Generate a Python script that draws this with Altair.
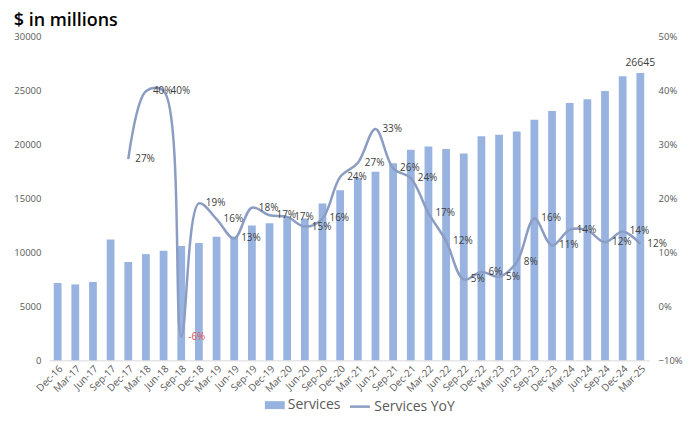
import altair as alt
import pandas as pd

quarters = ["Dec-16", "Mar-17", "Jun-17", "Sep-17", "Dec-17", "Mar-18", "Jun-18", "Sep-18",
            "Dec-18", "Mar-19", "Jun-19", "Sep-19", "Dec-19", "Mar-20", "Jun-20", "Sep-20",
            "Dec-20", "Mar-21", "Jun-21", "Sep-21", "Dec-21", "Mar-22", "Jun-22", "Sep-22",
            "Dec-22", "Mar-23", "Jun-23", "Sep-23", "Dec-23", "Mar-24", "Jun-24", "Sep-24",
            "Dec-24", "Mar-25"]

services = [7172, 7041, 7266, 11200, 9129, 9850, 10170, 10591,
            10875, 11450, 11455, 12511, 12715, 13348, 13156, 14549,
            15761, 16901, 17486, 18277, 19516, 19821, 19604, 19188,
            20766, 20907, 21213, 22314, 23117, 23867, 24213, 24972,
            26340, 26645]

services_yoy = [None, None, None, None, 0.273, 0.399, 0.400, -0.056,
                0.191, 0.162, 0.126, 0.183, 0.169, 0.166, 0.148, 0.163,
                0.240, 0.266, 0.329, 0.256, 0.238, 0.173, 0.121, 0.050,
                0.064, 0.055, 0.082, 0.163, 0.113, 0.142, 0.141, 0.119,
                0.139, 0.116]

yoy_labels = ["", "", "", "", "27%", "40%", "40%", "-6%",
              "19%", "16%", "13%", "18%", "17%", "17%", "15%", "16%",
              "24%", "27%", "33%", "26%", "24%", "17%", "12%", "5%",
              "6%", "5%", "8%", "16%", "11%", "14%", "", "12%",
              "14%", "12%"]

bar_labels = [""] * 33 + ["26645"]

left_ticks = [0, 5000, 10000, 15000, 20000, 25000, 30000]
right_ticks = [-0.1, 0.0, 0.1, 0.2, 0.3, 0.4, 0.5]

BAR = "#98B3DF"
LINE = "#8C9DC4"
FONT = "Open Sans"
GREY = "#595959"

df = pd.DataFrame({
    "quarter": quarters,
    "services": services,
    "yoy": services_yoy,
    "yoy_label": yoy_labels,
    "bar_label": bar_labels,
    "bar_series": ["Services"] * len(quarters),
    "line_series": ["Services YoY"] * len(quarters),
})

x_enc = alt.X("quarter:N", sort=quarters, title=None,
              scale=alt.Scale(paddingInner=0.56, paddingOuter=0.28),
              axis=alt.Axis(labelAngle=-45, ticks=False, domainColor="#D9D9D9",
                            labelColor=GREY, labelFontSize=10, labelFont=FONT,
                            labelPadding=3, grid=False))

y_left = alt.Y("services:Q", title=None,
               scale=alt.Scale(domain=[0, 30000], nice=False),
               axis=alt.Axis(values=left_ticks, format="d", ticks=False, domain=False,
                             grid=False, labelColor=GREY, labelFontSize=9.5,
                             labelFont=FONT, labelPadding=8))

y_right = alt.Y("yoy:Q", title=None,
                scale=alt.Scale(domain=[-0.1, 0.5], nice=False),
                axis=alt.Axis(orient="right", values=right_ticks, format=".0%",
                              ticks=False, domain=False, grid=False, labelColor=GREY,
                              labelFontSize=9.5, labelFont=FONT, labelPadding=9))

base = alt.Chart(df)

bars = base.mark_bar(color=BAR).encode(
    x=x_enc,
    y=y_left,
    fill=alt.Fill("bar_series:N", scale=alt.Scale(range=[BAR]),
                  legend=alt.Legend(orient="none", legendX=217, legendY=360, title=None,
                                    symbolType="M-1,-0.4H1V0.4H-1Z", symbolSize=400,
                                    symbolStrokeWidth=0, labelFontSize=14, labelColor=GREY,
                                    labelFont=FONT, labelOffset=3)),
)

bar_text = base.mark_text(dy=-5, baseline="bottom", fontSize=10.5, font=FONT,
                          color="#404040").encode(
    x=alt.X("quarter:N", sort=quarters),
    y=alt.Y("services:Q"),
    text="bar_label:N",
)

line = base.mark_line(interpolate="catmull-rom", strokeWidth=2.5).encode(
    x=alt.X("quarter:N", sort=quarters),
    y=y_right,
    stroke=alt.Stroke("line_series:N", scale=alt.Scale(range=[LINE]),
                      legend=alt.Legend(orient="none", legendX=301, legendY=360, title=None,
                                        symbolType="stroke", symbolSize=400,
                                        symbolStrokeWidth=2.5, labelFontSize=14,
                                        labelColor=GREY, labelFont=FONT, labelOffset=3)),
)

line_text = base.transform_filter("datum.yoy_label != ''").mark_text(
    align="left", baseline="middle", dx=7, fontSize=10, font=FONT).encode(
    x=alt.X("quarter:N", sort=quarters),
    y=alt.Y("yoy:Q"),
    text="yoy_label:N",
    color=alt.condition("datum.yoy < 0", alt.value("#E0504E"), alt.value("#404040")),
)

left = alt.layer(bars, bar_text)
right = alt.layer(line, line_text)

chart = alt.layer(left, right).resolve_scale(y="independent").properties(
    width=603,
    height=325,
    padding={"left": 5, "top": 3, "right": 0, "bottom": 0},
    title=alt.Title("$ in millions", anchor="start", frame="bounds", fontSize=18,
                    fontWeight=600, color="#000000", font=FONT, offset=2),
).configure_view(stroke=None)

chart.save("out.html", embed_options={"renderer": "svg", "actions": False})
